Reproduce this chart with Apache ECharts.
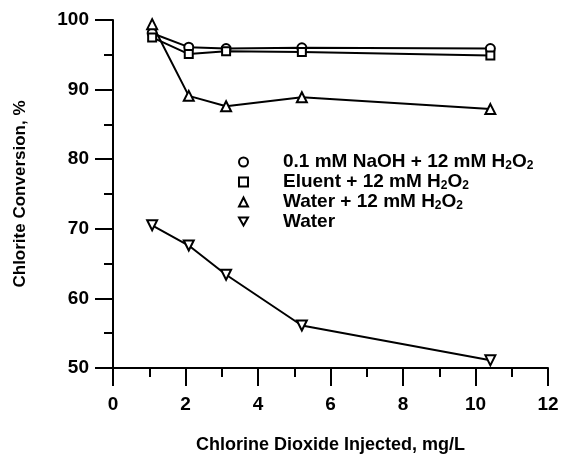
<!DOCTYPE html>
<html>
<head>
<meta charset="utf-8">
<script src="https://cdn.jsdelivr.net/npm/echarts@6/dist/echarts.min.js"></script>
<style>
  html, body { margin: 0; padding: 0; background: #fff; }
  #chart { width: 562px; height: 459px; }
</style>
</head>
<body>
<div id="chart"></div>
<script>
// chlorine dioxide injected, mg/L
const doseX = [1.08, 2.09, 3.12, 5.21, 10.41];
// chlorite conversion, %
const naohH2o2 = [98.1, 96.1, 95.9, 96.0, 95.9];
const eluentH2o2 = [97.5, 95.1, 95.5, 95.4, 94.9];
const waterH2o2 = [99.4, 89.1, 87.6, 88.9, 87.2];
const waterOnly = [70.5, 67.6, 63.4, 56.1, 51.1];

const seriesNames = ['0.1 mM NaOH + 12 mM H2O2', 'Eluent + 12 mM H2O2', 'Water + 12 mM H2O2', 'Water'];
const legendIcons = ['circle', 'rect', 'triangle', 'path://M0,0L10,0L5,9Z'];

let myChart = echarts.init(document.getElementById('chart'));

function pairs(ys) {
  return doseX.map((x, i) => [x, ys[i]]);
}

const font = 'Liberation Sans, Arial, sans-serif';

function makeSeries(name, ys, symbol, rotate, size) {
  return {
    name: name,
    type: 'line',
    data: pairs(ys),
    symbol: symbol,
    symbolSize: size,
    symbolRotate: rotate,
    showAllSymbol: true,
    lineStyle: { color: '#000', width: 2 },
    itemStyle: { color: '#fff', borderColor: '#000', borderWidth: 2 },
    emphasis: { disabled: true },
    z: 2
  };
}

const tickStyle = { color: '#000', width: 2 };
const labelStyle = { fontSize: 19, fontWeight: 'bold', color: '#000', fontFamily: font };
const nameStyle = { fontSize: 17, fontWeight: 'bold', color: '#000', fontFamily: font };

let option = {
  animation: false,
  textStyle: { fontFamily: font, color: '#000' },
  grid: { left: 113, top: 20, right: 14, bottom: 91 },
  legend: {
    orient: 'vertical',
    left: 238,
    top: 152,
    padding: 0,
    itemWidth: 9,
    itemHeight: 9,
    itemGap: 0,
    symbolRotate: 0,
    data: seriesNames.map((n, i) => ({ name: n, icon: legendIcons[i] })),
    formatter: function (name) {
      // H2O2 写成下标
      let parts = name.split('H2O2');
      let s = '{n|' + parts[0] + '}';
      if (parts.length > 1) {
        s += '{n|H}{s|2}{n|O}{s|2}';
      }
      return s;
    },
    textStyle: {
      rich: {
        n: { fontFamily: font, fontSize: 19, fontWeight: 'bold', color: '#000', lineHeight: 19 },
        s: { fontFamily: font, fontSize: 12, fontWeight: 'bold', color: '#000', lineHeight: 11, padding: [8, 0, 0, 0] }
      },
      padding: [0, 0, 0, 30]
    }
  },
  xAxis: {
    type: 'value',
    min: 0,
    max: 12,
    interval: 2,
    name: 'Chlorine Dioxide Injected, mg/L',
    nameLocation: 'middle',
    nameGap: 68,
    nameTextStyle: Object.assign({}, nameStyle, { fontSize: 18 }),
    axisLine: { lineStyle: tickStyle },
    axisTick: { length: 18, lineStyle: tickStyle },
    minorTick: { show: true, splitNumber: 2, length: 9, lineStyle: tickStyle },
    axisLabel: Object.assign({ margin: 27 }, labelStyle),
    splitLine: { show: false }
  },
  yAxis: {
    type: 'value',
    min: 50,
    max: 100,
    interval: 10,
    name: 'Chlorite Conversion, %',
    nameLocation: 'middle',
    nameGap: 84,
    nameTextStyle: nameStyle,
    axisLine: { show: true, lineStyle: tickStyle },
    axisTick: { show: true, length: 18, lineStyle: tickStyle },
    minorTick: { show: true, splitNumber: 2, length: 9, lineStyle: tickStyle },
    axisLabel: Object.assign({ margin: 24 }, labelStyle),
    splitLine: { show: false }
  },
  series: [
    makeSeries(seriesNames[0], naohH2o2, 'circle', 0, 9),
    makeSeries(seriesNames[1], eluentH2o2, 'rect', 0, 8),
    makeSeries(seriesNames[2], waterH2o2, 'triangle', 0, 10),
    makeSeries(seriesNames[3], waterOnly, 'triangle', 180, 10)
  ]
};

myChart.setOption(option);
</script>
</body>
</html>
